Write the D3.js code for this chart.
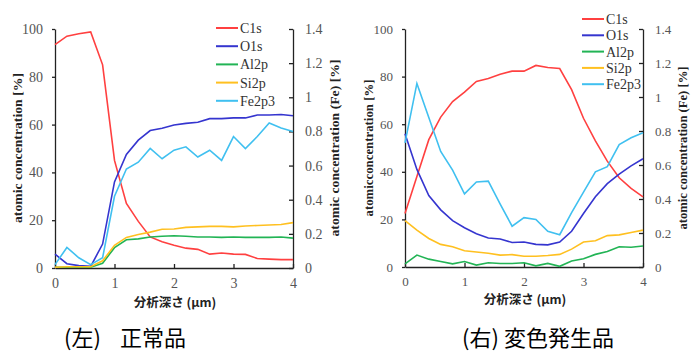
<!DOCTYPE html>
<html>
<head>
<meta charset="utf-8">
<script src="https://cdn.jsdelivr.net/npm/d3@7"></script>
<style>
  body { margin: 0; background: #fff; }
  .serif, .serif text { font-family: 'Liberation Serif', 'DejaVu Serif', 'Times New Roman', Times, serif; }
</style>
</head>
<body>
<svg id="chart" width="696" height="354"></svg>
<script>
// depth (um), every 0.2
const depth = [0, 0.2, 0.4, 0.6, 0.8, 1.0, 1.2, 1.4, 1.6, 1.8, 2.0, 2.2, 2.4, 2.6, 2.8, 3.0, 3.2, 3.4, 3.6, 3.8, 4.0];

// left panel: normal product
const c1sLeft  = [93.5, 97, 98, 98.8, 85, 45, 27, 19.5, 13, 11, 9.5, 8.3, 7.8, 5.8, 6.3, 5.8, 5.7, 4, 3.7, 3.5, 3.5];
const o1sLeft  = [5.8, 1.8, 1, 0.7, 10, 36, 47.5, 53.5, 57.5, 58.5, 59.8, 60.5, 61, 62.5, 62.5, 62.8, 62.8, 64, 64, 64.2, 63.7];
const al2pLeft = [0.3, 0.3, 0.3, 0.3, 2, 8.5, 11.8, 12.2, 13, 13.3, 13.5, 13.3, 13, 13, 12.8, 13, 12.8, 12.8, 12.8, 13, 12.5];
const si2pLeft = [0.3, 0.5, 0.5, 0.5, 3, 9.5, 12.8, 14, 15, 16.2, 16.3, 17, 17.2, 17.4, 17.4, 17.2, 17.6, 17.8, 18, 18.2, 19];
const fe2pLeft = [0.02, 0.12, 0.06, 0.02, 0.06, 0.42, 0.58, 0.62, 0.70, 0.64, 0.69, 0.71, 0.65, 0.69, 0.63, 0.77, 0.70, 0.77, 0.85, 0.82, 0.80];

// right panel: discoloured product
const c1sRight  = [22.5, 38, 53.5, 63, 69.5, 73.5, 78, 79.2, 81, 82.3, 82.3, 84.7, 83.8, 83.4, 74.5, 62.5, 53, 44.5, 37.5, 33, 29.5];
const o1sRight  = [56, 41, 30, 24, 19.5, 16.5, 14, 12.2, 11.8, 10.3, 10.5, 9.5, 9.3, 10.5, 15, 22.5, 29.5, 35, 39, 42.5, 45.5];
const al2pRight = [1.3, 5, 3.3, 2.3, 1.3, 2.3, 0.8, 1.8, 1.5, 1.5, 1.8, 0.5, 1.5, 0.3, 2.5, 3.5, 5.3, 6.5, 8.5, 8.3, 8.8];
const si2pRight = [19.5, 15.5, 12, 9.5, 8.5, 6.8, 6.3, 5.8, 5.0, 5.2, 4.5, 4.5, 4.8, 5.3, 7.5, 10.5, 11, 13.2, 13.5, 14.5, 15.5];
const fe2pRight = [0.73, 1.08, 0.88, 0.68, 0.57, 0.43, 0.50, 0.505, 0.37, 0.24, 0.29, 0.28, 0.21, 0.19, 0.32, 0.44, 0.56, 0.59, 0.72, 0.76, 0.79];

const seriesNames = ['C1s', 'O1s', 'Al2p', 'Si2p', 'Fe2p3'];
const seriesColors = ['#ff4040', '#3535cf', '#22b455', '#ffc020', '#40c0f0'];
const xTicks = [0, 1, 2, 3, 4];
const yTicks = [0, 20, 40, 60, 80, 100];
const feTicks = [0, 0.2, 0.4, 0.6, 0.8, 1, 1.2, 1.4];

const GOTHIC = '"Noto Sans CJK JP", "Noto Sans", sans-serif';

const svg = d3.select('#chart');

function drawPanel(p) {
    const x = d3.scaleLinear().domain([0, 4]).range([p.left, p.right]);
    const y = d3.scaleLinear().domain([0, 100]).range([p.bottom, p.top]);
    const yFe = d3.scaleLinear().domain([0, 1.4]).range([p.bottom, p.top]);
    const g = svg.append('g');

    // axes
    const xAxis = g.append('g').attr('transform', 'translate(0,' + p.bottom + ')')
        .call(d3.axisBottom(x).tickValues(xTicks).tickFormat(d => String(d))
            .tickSizeInner(-4).tickSizeOuter(0).tickPadding(10));
    const yAxis = g.append('g').attr('transform', 'translate(' + p.left + ',0)')
        .call(d3.axisLeft(y).tickValues(yTicks).tickSizeInner(3).tickSizeOuter(0).tickPadding(9));
    const fAxis = g.append('g').attr('transform', 'translate(' + p.right + ',0)')
        .call(d3.axisRight(yFe).tickValues(feTicks).tickFormat(d => String(d))
            .tickSizeInner(-4).tickSizeOuter(0).tickPadding(12));
    [xAxis, yAxis, fAxis].forEach(a => {
        a.attr('font-family', null).attr('class', 'serif').attr('font-size', p.tickSize);
        a.selectAll('path').attr('stroke', '#222').attr('stroke-width', 1.3);
        a.selectAll('line').attr('stroke', '#222').attr('stroke-width', 1.3);
        a.selectAll('text').attr('fill', '#555');
    });

    // series lines
    const line = (ys) => d3.line().x((d, i) => x(depth[i])).y(d => ys(d));
    p.series.forEach((vals, k) => {
        g.append('path').datum(vals)
            .attr('fill', 'none')
            .attr('stroke', seriesColors[k])
            .attr('stroke-width', 1.6)
            .attr('d', line(k === 4 ? yFe : y));
    });

    // legend
    const lg = g.append('g').attr('class', 'serif').attr('font-size', 14);
    seriesNames.forEach((name, k) => {
        const ly = p.legY + k * p.legStep;
        lg.append('line').attr('x1', p.legX).attr('x2', p.legX + 22)
            .attr('y1', ly).attr('y2', ly)
            .attr('stroke', seriesColors[k]).attr('stroke-width', 2);
        lg.append('text').attr('x', p.legX + 24).attr('y', ly + 5)
            .attr('fill', '#333').text(name);
    });

    // axis titles
    const titles = g.append('g').attr('class', 'serif').attr('font-weight', 'bold')
        .attr('font-size', 12.5).attr('fill', '#222').attr('text-anchor', 'middle');
    titles.append('text')
        .attr('transform', 'translate(' + p.yTitleX + ',148) rotate(-90)')
        .attr('textLength', p.yTitleLen).attr('lengthAdjust', 'spacingAndGlyphs')
        .text(p.yTitle);
    titles.append('text')
        .attr('transform', 'translate(' + p.feTitleX + ',148) rotate(-90)')
        .attr('textLength', p.feTitleLen).attr('lengthAdjust', 'spacingAndGlyphs')
        .text('atomic concentration (Fe) [%]');
    g.append('text')
        .attr('x', (p.left + p.right) / 2 + 1).attr('y', p.xTitleY)
        .attr('text-anchor', 'middle').attr('font-weight', 'bold')
        .attr('fill', '#222').attr('font-size', 12.5)
        .attr('font-family', GOTHIC)
        .text('分析深さ (μm)');

    // caption: bracket part and name part
    const cap = g.append('g').attr('font-family', GOTHIC).attr('font-size', 22).attr('fill', '#000');
    cap.append('text').attr('x', p.capX).attr('y', 346).text(p.capTag);
    cap.append('text').attr('x', p.capNameX).attr('y', 346).text(p.capName);
}

drawPanel({
    left: 55, right: 293, top: 29, bottom: 268, tickSize: 14,
    series: [c1sLeft, o1sLeft, al2pLeft, si2pLeft, fe2pLeft],
    legX: 216, legY: 28, legStep: 18.2,
    yTitle: 'atomic concentration [%]', yTitleX: 22, yTitleLen: 150,
    feTitleX: 339, feTitleLen: 177,
    xTitleY: 307,
    capTag: '(左)', capX: 64, capName: '正常品', capNameX: 120
});

drawPanel({
    left: 405, right: 643, top: 29, bottom: 267, tickSize: 13,
    series: [c1sRight, o1sRight, al2pRight, si2pRight, fe2pRight],
    legX: 582, legY: 19, legStep: 16.3,
    yTitle: 'atomicconcentration [%]', yTitleX: 373, yTitleLen: 137,
    feTitleX: 687, feTitleLen: 163,
    xTitleY: 304,
    capTag: '(右)', capX: 462, capName: '変色発生品', capNameX: 504
});
</script>
</body>
</html>
